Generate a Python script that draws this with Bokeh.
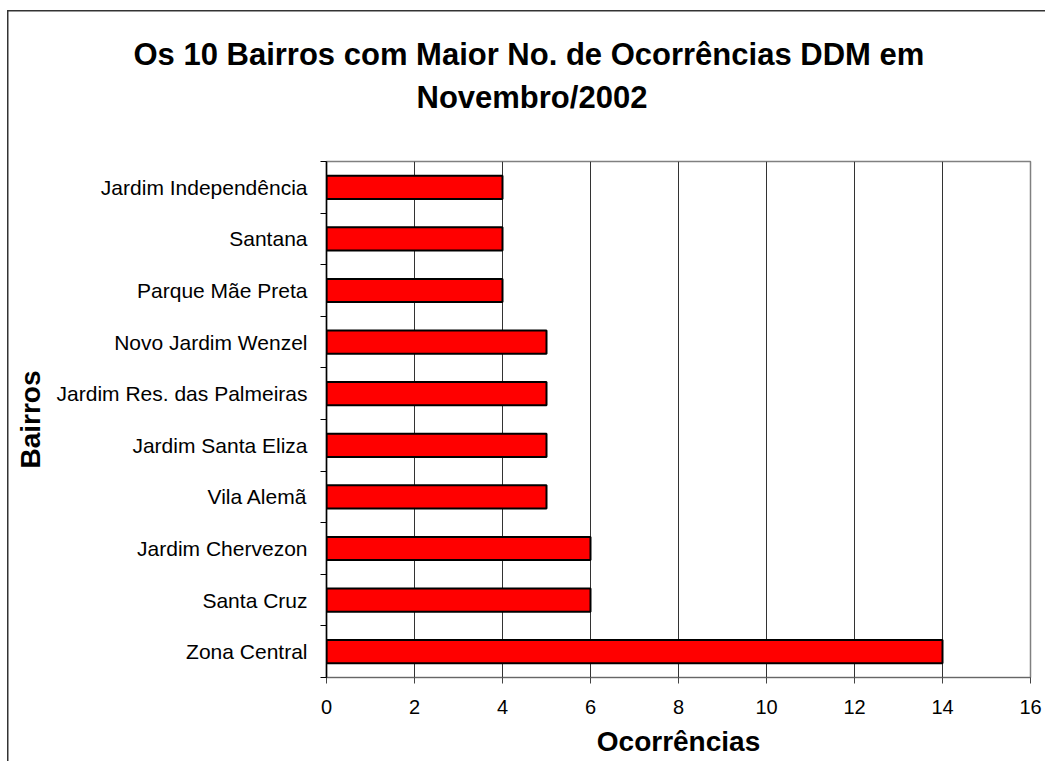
from bokeh.plotting import figure
from bokeh.models import Range1d, FixedTicker, Title, ColumnDataSource
from bokeh.embed import file_html
from bokeh.resources import INLINE

# Data (bottom to top)
bairros = ["Zona Central", "Santa Cruz", "Jardim Chervezon", "Vila Alemã",
           "Jardim Santa Eliza", "Jardim Res. das Palmeiras", "Novo Jardim Wenzel",
           "Parque Mãe Preta", "Santana", "Jardim Independência"]
ocorrencias = [14, 6, 6, 5, 5, 5, 5, 4, 4, 4]
x_ticks = [0, 2, 4, 6, 8, 10, 12, 14, 16]
title_lines = ["Os 10 Bairros com Maior No. de Ocorrências DDM em", "Novembro/2002"]

FONT = "Liberation Sans"

pos = [i + 0.5 for i in range(len(bairros))]
src = ColumnDataSource(dict(y=pos, v=ocorrencias, name=bairros))

p = figure(width=1045, height=761, output_backend="svg", toolbar_location=None,
           x_range=Range1d(0, 16), y_range=Range1d(0, len(bairros)),
           min_border_left=326, min_border_right=15, min_border_top=161,
           min_border_bottom=84)
p.border_fill_alpha = 0
p.background_fill_color = "white"
p.styles = {"box-shadow": "inset 7px 10px 0 0 white, inset 8.5px 11.5px 0 0 #333"}

p.hbar(y="y", right="v", left=0, height=0.45, source=src,
       fill_color="#FF0000", line_color="black", line_width=2)

# X axis
p.xaxis.ticker = FixedTicker(ticks=x_ticks)
p.xaxis.axis_label = "Ocorrências"
p.xaxis.axis_label_text_font = FONT
p.xaxis.axis_label_text_font_style = "bold"
p.xaxis.axis_label_text_font_size = "28px"
p.xaxis.axis_label_text_color = "black"
p.xaxis.axis_label_standoff = 9
p.xaxis.major_label_text_font = FONT
p.xaxis.major_label_text_font_size = "20px"
p.xaxis.major_label_text_color = "black"
p.xaxis.major_label_standoff = 16
p.xaxis.major_tick_in = 0
p.xaxis.major_tick_out = 6
p.xaxis.minor_tick_line_color = None
p.xaxis.axis_line_color = "#666666"
p.xaxis.major_tick_line_color = "#444444"

# Y axis
p.yaxis.ticker = FixedTicker(ticks=pos, minor_ticks=list(range(len(bairros) + 1)))
p.yaxis.major_label_overrides = {pp: b for pp, b in zip(pos, bairros)}
p.yaxis.major_tick_line_color = None
p.yaxis.minor_tick_in = 0
p.yaxis.minor_tick_out = 6
p.yaxis.minor_tick_line_color = "black"
p.yaxis.axis_line_color = "black"
p.yaxis.axis_line_width = 1.5
p.yaxis.major_label_text_font = FONT
p.yaxis.major_label_text_font_size = "21px"
p.yaxis.major_label_text_color = "black"
p.yaxis.major_label_standoff = 13
p.yaxis.axis_label = "Bairros"
p.yaxis.axis_label_text_font = FONT
p.yaxis.axis_label_text_font_style = "bold"
p.yaxis.axis_label_text_font_size = "28px"
p.yaxis.axis_label_text_color = "black"
p.yaxis.axis_label_standoff = 8

# Grid
p.ygrid.grid_line_color = None
p.xgrid.ticker = FixedTicker(ticks=x_ticks)
p.xgrid.grid_line_color = "#333333"
p.xgrid.grid_line_width = 1
p.outline_line_color = "#808080"
p.outline_line_width = 1.5

# Title: spacer nearest the frame, then the two title lines
title_style = dict(text_font=FONT, text_font_style="bold", text_font_size="31px",
                   text_color="black")
p.add_layout(Title(text=" ", align="left", standoff=7.5, **title_style), "above")
p.add_layout(Title(text=title_lines[1], align="left", offset=90, standoff=4,
                   **title_style), "above")
p.add_layout(Title(text=title_lines[0], align="left", offset=-193, standoff=7,
                   **title_style), "above")

open("out.html", "w").write(file_html(p, INLINE))
